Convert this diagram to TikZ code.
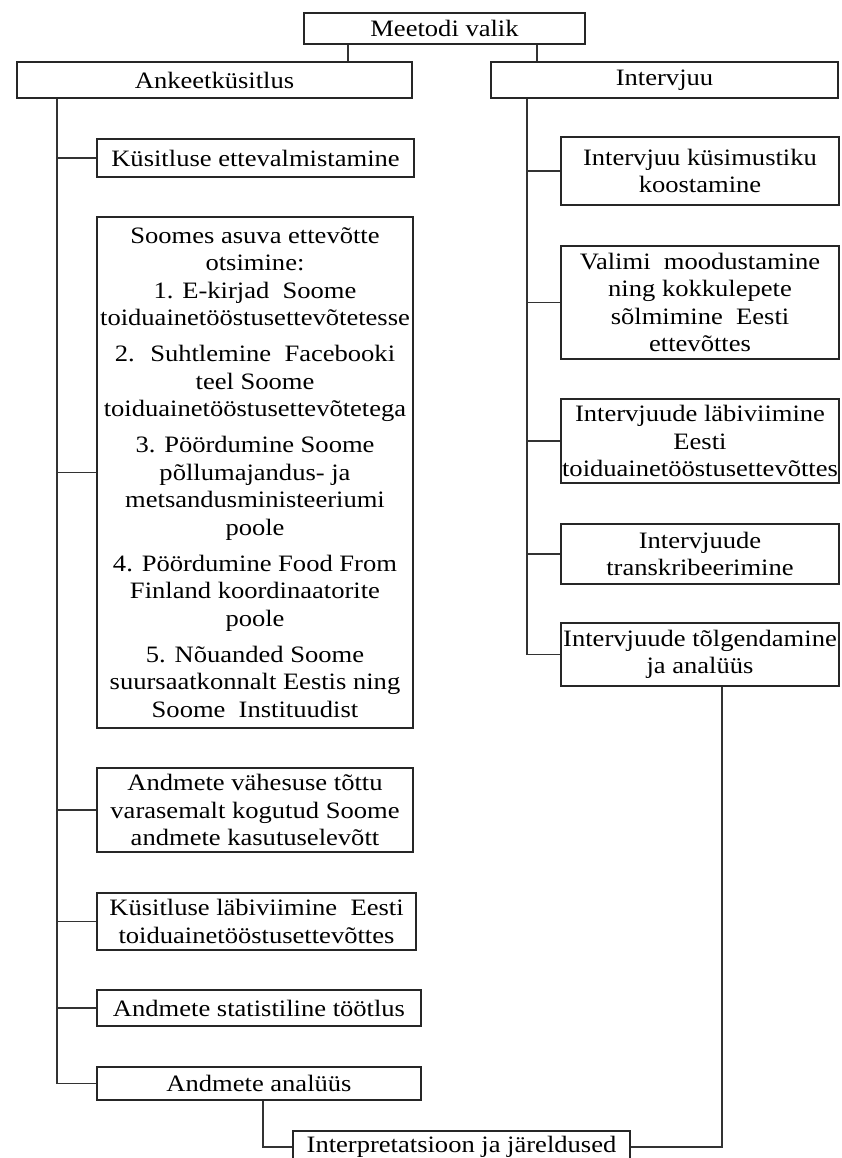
\documentclass[tikz,border=0pt]{standalone}
\usepackage{fontspec}
\setmainfont[FakeStretch=1.13]{Liberation Serif}
\begin{document}
\begin{tikzpicture}[x=1pt,y=-1pt]
\tikzset{
 box/.style={draw=black!85, line width=1.7pt, fill=white, inner sep=0pt, align=center,
   font=\fontsize{23.5}{27.5}\selectfont},
 link/.style={draw=black!80, line width=1.7pt}
}
\useasboundingbox (0,0) rectangle (841,1158);
\fill[white] (0,0) rectangle (841,1158);
\clip (0,0) rectangle (841,1158);

\node[box, minimum width=281, minimum height=31] (meet) at (444.5,28.5) {Meetodi valik};
\node[box, minimum width=395, minimum height=36] (ank) at (214.5,80) {Ankeetküsitlus};
\node[box, minimum width=347, minimum height=36] (int) at (664.5,80) {Intervjuu};

\node[box, minimum width=317, minimum height=38] (l1) at (255.5,158) {Küsitluse ettevalmistamine};
\node[box, minimum width=316, minimum height=511] (l2) at (255,472.5) {Soomes asuva ettevõtte\\otsimine:\\1. E-kirjad~ Soome\\toiduainetööstusettevõtetesse\\[8.5pt]2.~ Suhtlemine~ Facebooki\\teel Soome\\toiduainetööstusettevõtetega\\[8.5pt]3. Pöördumine Soome\\põllumajandus- ja\\metsandusministeeriumi\\poole\\[8.5pt]4. Pöördumine Food From\\Finland koordinaatorite\\poole\\[8.5pt]5. Nõuanded Soome\\suursaatkonnalt Eestis ning\\Soome~ Instituudist};
\node[box, minimum width=316, minimum height=84] (l3) at (255,810) {Andmete vähesuse tõttu\\varasemalt kogutud Soome\\andmete kasutuselevõtt};
\node[box, minimum width=319, minimum height=57] (l4) at (256.5,921.5) {Küsitluse läbiviimine~ Eesti\\toiduainetööstusettevõttes};
\node[box, minimum width=324, minimum height=36] (l5) at (259,1008) {Andmete statistiline töötlus};
\node[box, minimum width=324, minimum height=33] (l6) at (259,1083.5) {Andmete analüüs};

\node[box, minimum width=278, minimum height=68] (r1) at (700,171) {Intervjuu küsimustiku\\koostamine};
\node[box, minimum width=278, minimum height=113] (r2) at (700,302.5) {Valimi~ moodustamine\\ning kokkulepete\\sõlmimine~ Eesti\\ettevõttes};
\node[box, minimum width=278, minimum height=84] (r3) at (700,441) {Intervjuude läbiviimine\\Eesti\\toiduainetööstusettevõttes};
\node[box, minimum width=278, minimum height=60] (r4) at (700,554) {Intervjuude\\transkribeerimine};
\node[box, minimum width=278, minimum height=63] (r5) at (700,654.5) {Intervjuude tõlgendamine\\ja analüüs};

\node[box, minimum width=337, minimum height=32] (interp) at (461.5,1147) {Interpretatsioon ja järeldused};

\coordinate (a1) at (348,0);
\coordinate (a2) at (537,0);
\coordinate (lt) at (57,0);
\coordinate (rt) at (527,0);
\coordinate (ax) at (263,0);
\coordinate (tx) at (722,0);

\draw[link] (meet.south -| a1) -- (ank.north -| a1);
\draw[link] (meet.south -| a2) -- (int.north -| a2);

\draw[link] (ank.south -| lt) |- (l6.west);
\foreach \n in {l1,l2,l3,l4,l5} \draw[link] (\n.west -| lt) -- (\n.west);

\draw[link] (int.south -| rt) |- (r5.west);
\foreach \n in {r1,r2,r3,r4} \draw[link] (\n.west -| rt) -- (\n.west);

\draw[link] (l6.south -| ax) |- (interp.west);
\draw[link] (r5.south -| tx) |- (interp.east);
\end{tikzpicture}
\end{document}
